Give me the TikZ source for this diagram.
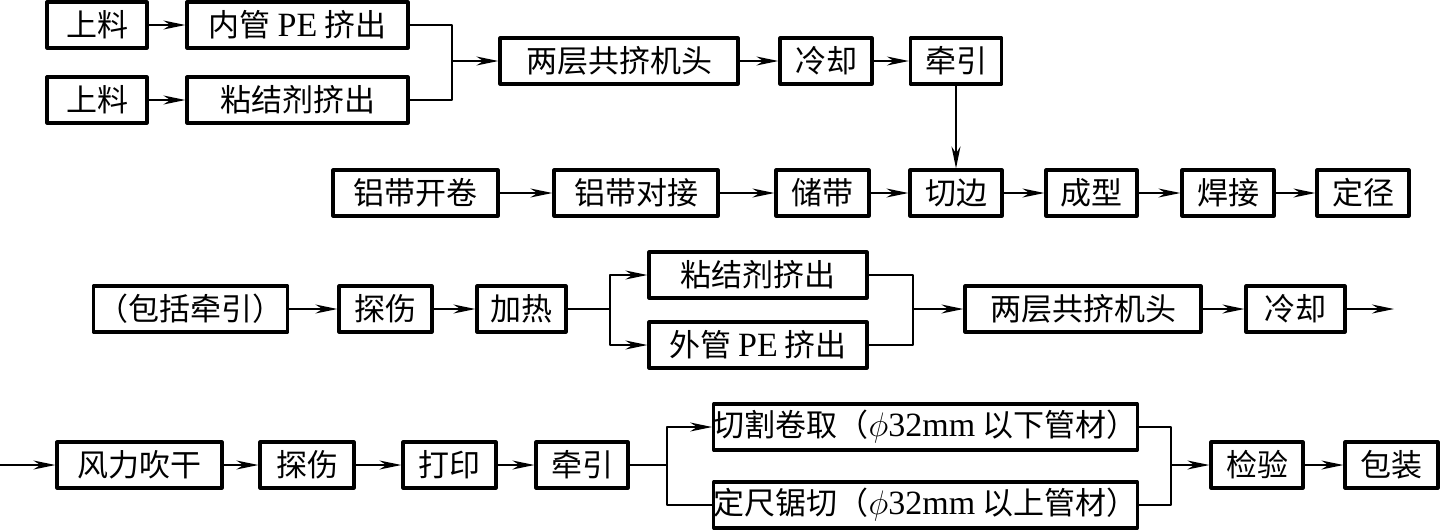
\RequirePackage{fix-cm}
\documentclass[tikz,border=0pt]{standalone}
\usepackage{fontspec}
\setmainfont{Liberation Serif}
\newfontfamily\cjk{Noto Sans CJK SC}
\newcommand\lat[1]{{\rmfamily\fontsize{34}{34}\selectfont #1}}
\usetikzlibrary{arrows.meta}

\begin{document}
\begin{tikzpicture}[x=1pt, y=-1pt, line join=round,
    box/.style={draw, line width=3.2pt, minimum height=46pt, inner sep=0pt, font=\cjk\fontsize{31}{34}\selectfont},
    link/.style={line width=1.5pt},
    flow/.style={link, -{Stealth[length=22pt,width=9pt,inset=7pt]}}]
    \useasboundingbox (0,0) rectangle (1440,531);
    % boxes: name/x/y/width/text
    \foreach \n/\x/\y/\w/\t in {sla/97/25/100/上料, nga/297.5/25/221/内管 \lat{PE} 挤出, slb/97/100/100/上料, njj/297.5/100/221/粘结剂挤出,
        gjt/619/61/238/两层共挤机头, lqa/826/61/92/冷却, qya/956/61/91/牵引,
        kj/415.5/193/165/铝带开卷, dj/636/193/164/铝带对接, cd/822.5/193/93/储带, qb/956/193/92/切边, cx/1091.5/193/91/成型, hj/1228/193/92/焊接, dz/1363/193/92/定径,
        bk/190.5/309/194/（包括牵引）, tsa/385.5/309/93/探伤, jr/521.5/309/89/加热, njb/758/275/218/粘结剂挤出, wg/758/345/218/外管 \lat{PE} 挤出, gjb/1083/309/236/两层共挤机头, lqb/1295.5/309/99/冷却,
        fc/139.5/465/165/风力吹干, tsb/307/465/94/探伤, dy/449.5/465/93/打印, qyb/582/465/92/牵引,
        gq/925.5/427/423/切割卷取（\lat{$\phi$32mm} 以下管材）, dc/925.5/505/423/定尺锯切（\lat{$\phi$32mm} 以上管材）,
        jy/1257/465/92/检验, bz/1391.5/465/93/包装}
        \node[box, minimum width=\w pt] (\n) at (\x,\y) {\t};
    % straight arrows
    \foreach \a/\b in {sla/nga, slb/njj, gjt/lqa, lqa/qya, qya/qb, kj/dj, dj/cd, cd/qb, qb/cx, cx/hj, hj/dz,
        bk/tsa, tsa/jr, gjb/lqb, fc/tsb, tsb/dy, dy/qyb, jy/bz}
        \draw[flow] (\a) -- (\b);
    \coordinate (sa) at (0,465);
    \coordinate (ea) at (1394,309);
    \draw[flow] (lqb) -- (ea);
    \draw[flow] (sa) -- (fc);
    % joins and splits
    \coordinate (ha) at (452,61);
    \draw[link] (nga.east) -| (ha);
    \draw[link] (njj.east) -| (ha);
    \draw[flow] (ha) -- (gjt);
    \coordinate (fa) at (610,309);
    \draw[link] (jr) -- (fa);
    \draw[flow] (fa) |- (njb);
    \draw[flow] (fa) |- (wg);
    \coordinate (hb) at (913,309);
    \draw[link] (njb.east) -| (hb);
    \draw[link] (wg.east) -| (hb);
    \draw[flow] (hb) -- (gjb);
    \coordinate (fb) at (667,465);
    \draw[link] (qyb) -- (fb);
    \draw[flow] (fb) |- (gq);
    \draw[link] (fb) |- (dc);
    \coordinate (hc) at (1171,465);
    \draw[link] (gq.east) -| (hc);
    \draw[link] (dc.east) -| (hc);
    \draw[flow] (hc) -- (jy);
\end{tikzpicture}
\end{document}
